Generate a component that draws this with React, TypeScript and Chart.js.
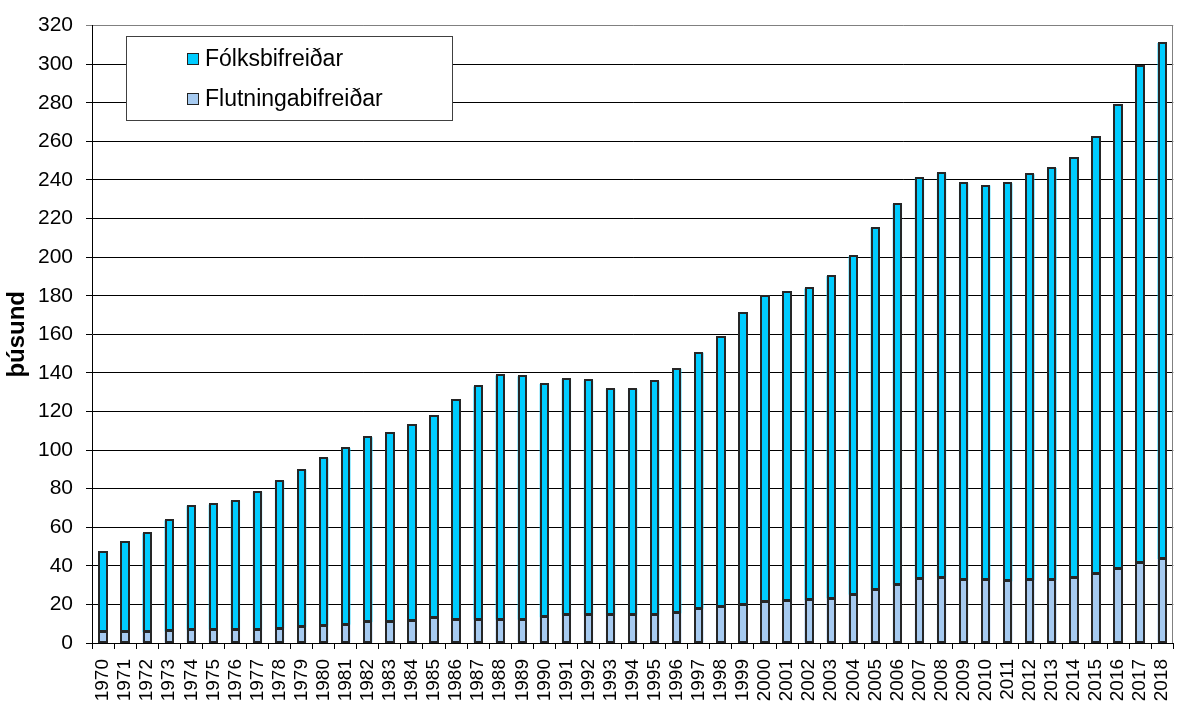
import React, { useEffect, useRef } from "react";
import { Chart, registerables } from "chart.js";

Chart.register(...registerables);

const years: string[] = [
  "1970", "1971", "1972", "1973", "1974", "1975", "1976", "1977", "1978", "1979",
  "1980", "1981", "1982", "1983", "1984", "1985", "1986", "1987", "1988", "1989",
  "1990", "1991", "1992", "1993", "1994", "1995", "1996", "1997", "1998", "1999",
  "2000", "2001", "2002", "2003", "2004", "2005", "2006", "2007", "2008", "2009",
  "2010", "2011", "2012", "2013", "2014", "2015", "2016", "2017", "2018",
];

// Flutningabifreiðar (þúsund)
const trucks: number[] = [
  5.5, 5.5, 5.7, 6.0, 6.9, 6.9, 6.9, 6.9, 7.5, 8.2,
  8.9, 9.4, 10.8, 10.8, 11.5, 12.7, 12.0, 12.0, 12.0, 12.0,
  13.4, 14.6, 14.6, 14.6, 14.6, 14.6, 15.3, 17.8, 18.5, 19.5,
  21.1, 21.8, 22.3, 23.0, 25.0, 27.4, 30.2, 33.3, 33.9, 32.6,
  32.6, 31.9, 32.6, 32.6, 33.9, 35.9, 38.4, 41.5, 43.6,
];

// Fólksbifreiðar (þúsund)
const cars: number[] = [
  41.8, 47.1, 51.2, 57.6, 64.2, 64.9, 66.8, 71.4, 76.5, 81.6,
  86.8, 91.6, 95.8, 97.8, 101.6, 104.9, 113.9, 121.0, 126.7, 126.2,
  120.9, 122.2, 121.5, 117.1, 117.1, 121.0, 126.8, 132.6, 140.1, 151.4,
  158.8, 160.0, 161.5, 167.2, 175.5, 187.8, 197.3, 207.8, 209.6, 205.7,
  204.5, 206.4, 210.4, 213.6, 217.3, 226.3, 240.6, 257.4, 267.4,
];

const FONT = "'Liberation Sans', Arial, sans-serif";

// Crisp dark outline around every bar segment, using the bar elements' own geometry
const barOutlines = {
  id: "barOutlines",
  afterDatasetsDraw(chart: any) {
    const { ctx } = chart;
    ctx.save();
    ctx.strokeStyle = "#262626";
    ctx.lineWidth = 2;
    chart.data.datasets.forEach((_ds: any, di: number) => {
      const meta = chart.getDatasetMeta(di);
      meta.data.forEach((el: any) => {
        const { x, y, base, width } = el.getProps(["x", "y", "base", "width"], true);
        const l = Math.round(x - width / 2) + 1;
        const r = Math.round(x + width / 2) - 1;
        const t = Math.round(Math.min(y, base));
        const b = Math.round(Math.max(y, base)) - 1;
        ctx.strokeRect(l, t, r - l, b - t);
      });
    });
    ctx.restore();
  },
};

const boxedLegend = {
  id: "boxedLegend",
  afterDraw(chart: any) {
    const { ctx, chartArea } = chart;
    ctx.save();
    // right frame line of the plot area
    ctx.strokeStyle = "#808080";
    ctx.lineWidth = 1;
    ctx.beginPath();
    ctx.moveTo(Math.round(chartArea.right) - 0.5, chartArea.top);
    ctx.lineTo(Math.round(chartArea.right) - 0.5, chartArea.bottom);
    ctx.stroke();

    const bx = Math.round(chartArea.left) + 34;
    const by = Math.round(chartArea.top) + 10;
    const bw = 326;
    const bh = 84;
    ctx.fillStyle = "#ffffff";
    ctx.fillRect(bx, by, bw, bh);
    ctx.strokeStyle = "#404040";
    ctx.strokeRect(bx + 0.5, by + 0.5, bw, bh);

    const items = chart.data.datasets.slice().reverse();
    items.forEach((ds: any, i: number) => {
      const cy = by + 23 + i * 40;
      ctx.fillStyle = ds.backgroundColor;
      ctx.fillRect(bx + 61, cy - 6, 12, 12);
      ctx.strokeStyle = "#222";
      ctx.strokeRect(bx + 61.5, cy - 5.5, 11, 11);
      ctx.fillStyle = "#000";
      ctx.font = `23px ${FONT}`;
      ctx.textBaseline = "middle";
      ctx.textAlign = "left";
      ctx.fillText(ds.label, bx + 79, cy + 1);
    });
    ctx.restore();
  },
};

export default function App() {
  const canvasRef = useRef<HTMLCanvasElement | null>(null);

  useEffect(() => {
    if (!canvasRef.current) return;
    const chart = new Chart(canvasRef.current, {
      type: "bar",
      data: {
        labels: years,
        datasets: [
          {
            label: "Flutningabifreiðar",
            data: trucks,
            backgroundColor: "#A6CAF0",
            borderWidth: 0,
            barPercentage: 0.42,
            categoryPercentage: 1.0,
          },
          {
            label: "Fólksbifreiðar",
            data: cars,
            backgroundColor: "#00CCFF",
            borderWidth: 0,
            barPercentage: 0.42,
            categoryPercentage: 1.0,
          },
        ],
      },
      options: {
        responsive: false,
        animation: false,
        layout: { padding: { top: 21, right: 1, left: 0, bottom: 0 } },
        plugins: {
          legend: { display: false },
          tooltip: { enabled: false },
        },
        scales: {
          x: {
            stacked: true,
            grid: {
              display: true,
              offset: true,
              drawOnChartArea: false,
              drawTicks: true,
              tickLength: 6,
              color: "#000",
              lineWidth: 1,
            },
            border: { display: true, color: "#000" },
            ticks: {
              autoSkip: false,
              maxRotation: 90,
              minRotation: 90,
              color: "#000",
              padding: 10,
              font: { family: FONT, size: 19 },
            },
            afterFit: (s: any) => {
              s.height = 58;
            },
          },
          y: {
            stacked: true,
            min: 0,
            max: 320,
            ticks: {
              stepSize: 20,
              color: "#000",
              padding: 13,
              font: { family: FONT, size: 21 },
            },
            grid: {
              color: (c: any) => (c.tick && c.tick.value === 320 ? "#808080" : "#000"),
              tickLength: 6,
              lineWidth: 1,
            },
            border: { display: true, color: "#000" },
            title: {
              display: true,
              text: "þúsund",
              color: "#000",
              font: { family: FONT, size: 24, weight: "bold" },
              padding: { top: 3, bottom: 0 },
            },
            afterFit: (s: any) => {
              s.width = 92;
            },
          },
        },
      },
      plugins: [barOutlines, boxedLegend],
    });
    return () => chart.destroy();
  }, []);

  return (
    <div style={{ position: "absolute", left: 0, top: 0, width: 1195, height: 701, background: "#fff" }}>
      <canvas ref={canvasRef} width={1195} height={701} />
    </div>
  );
}
